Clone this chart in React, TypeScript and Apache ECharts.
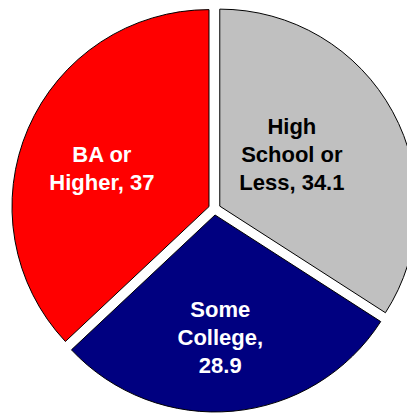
import React, { useEffect, useRef } from "react";
import * as echarts from "echarts";

const categories = ["High\nSchool or\nLess", "Some\nCollege,\n", "BA or\nHigher"];
const values = [34.1, 28.9, 37];
const labels = ["High\nSchool or\nLess, 34.1", "Some\nCollege,\n28.9", "BA or\nHigher, 37"];
const colors = ["#C0C0C0", "#000080", "#FF0000"];
const labelColors = ["#000000", "#FFFFFF", "#FFFFFF"];
const labelShift = [
  [-17, -3],
  [-4, 21],
  [-14, 2],
];

export default function App() {
  const ref = useRef<HTMLDivElement>(null);
  useEffect(() => {
    if (!ref.current) return;
    const chart = echarts.init(ref.current, undefined, { renderer: "svg" });
    chart.setOption({
      animation: false,
      backgroundColor: "#FFFFFF",
      series: [
        {
          type: "pie",
          center: [214.5, 209],
          radius: [0, 197],
          startAngle: 90,
          clockwise: true,
          selectedMode: "multiple",
          selectedOffset: 6,
          avoidLabelOverlap: false,
          labelLine: { show: false },
          itemStyle: { borderColor: "#000000", borderWidth: 1 },
          emphasis: { disabled: true },
          label: {
            show: true,
            position: "inside",
            fontFamily: "Liberation Sans, Arial, sans-serif",
            fontWeight: "bold",
            fontSize: 22,
            lineHeight: 28,
            align: "center",
          },
          labelLayout: (p: any) => ({
            dx: labelShift[p.dataIndex][0],
            dy: labelShift[p.dataIndex][1],
          }),
          data: values.map((v, i) => ({
            name: categories[i],
            value: v,
            selected: true,
            itemStyle: { color: colors[i] },
            label: { formatter: labels[i], color: labelColors[i] },
            select: {
              itemStyle: { color: colors[i], borderColor: "#000000", borderWidth: 1 },
              label: { color: labelColors[i] },
            },
          })),
        },
      ],
    });
    return () => chart.dispose();
  }, []);
  return (
    <div
      ref={ref}
      style={{ position: "fixed", left: 0, top: 0, width: 407, height: 413 }}
    />
  );
}
